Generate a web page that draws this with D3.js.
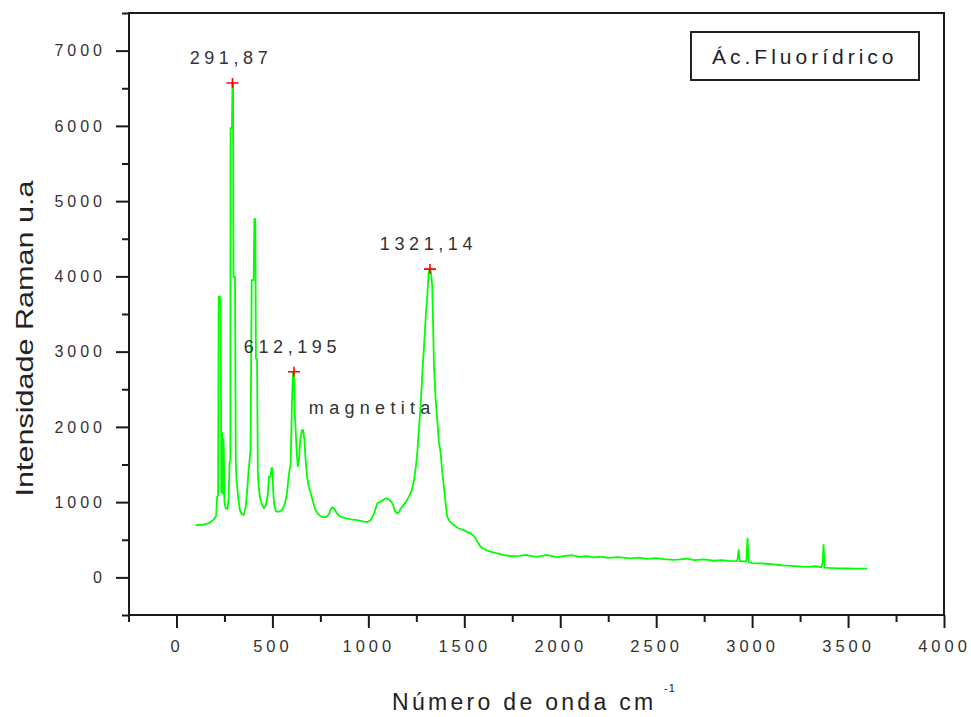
<!DOCTYPE html>
<html>
<head>
<meta charset="utf-8">
<script src="https://cdn.jsdelivr.net/npm/d3@7"></script>
<style>
  html, body { margin: 0; padding: 0; background: #fff; }
  svg { display: block; }
  text { font-family: "Liberation Sans", Arial, sans-serif; }
</style>
</head>
<body>
<svg id="chart" width="971" height="717"></svg>
<script>
// ---------- data ----------
const wavenumber = [
  100, 108, 118, 130, 145, 160, 175, 190, 200, 207, 212, 217,
  220, 226, 230, 234, 238, 241, 244, 247, 250, 256, 266, 272, 277, 281,
  282, 289, 291.87, 295, 297, 305, 309, 313, 320, 330, 340, 350,
  362, 368, 376, 386, 392, 402, 406, 411, 414, 420, 424, 428, 436, 446, 456,
  466, 476, 482, 490, 495, 500, 504, 510, 518, 528, 540, 552, 565, 575, 585,
  595, 603, 608, 612.195, 616, 620, 626, 632, 638, 646, 654, 660, 666, 672,
  680, 690, 700, 712, 724, 735, 750, 765, 780, 795, 806, 815, 825, 835, 845,
  860, 875, 891, 910, 930, 943, 960, 975, 995, 1012, 1020, 1030, 1040, 1047,
  1060, 1075, 1090, 1105, 1118, 1128, 1140, 1151, 1160, 1170, 1180, 1195,
  1211, 1225, 1238, 1248, 1255, 1263, 1272, 1281, 1290, 1300, 1307, 1314,
  1321.14, 1327, 1333, 1338, 1342, 1350, 1359, 1368, 1377, 1385, 1394, 1402,
  1411, 1425, 1446, 1465, 1480, 1498, 1515, 1533, 1546, 1559, 1572, 1585,
  1600, 1620, 1645, 1672, 1700, 1741, 1790, 1820, 1845, 1875, 1900, 1930,
  1950, 1985, 2019, 2060, 2100, 2140, 2175, 2210, 2250, 2300, 2366, 2410,
  2450, 2500, 2540, 2590, 2627, 2660, 2700, 2750, 2800, 2840, 2880, 2920,
  2925, 2930, 2935, 2945, 2970, 2976, 2982, 3000, 3050, 3100, 3130, 3160,
  3228, 3260, 3300, 3330, 3360, 3368, 3372, 3378, 3400, 3450, 3500, 3550, 3600
];
const intensity = [
  700, 690, 700, 695, 705, 715, 730, 760, 790, 820, 1070, 1090,
  3730, 3730, 3600, 1120, 1930, 1100, 1850, 1690, 1000, 920, 910, 1050, 1530, 1540,
  5970, 5970, 6570, 6570, 3990, 3990, 1555, 1300, 1100, 900, 840, 830,
  950, 1150, 1420, 1700, 3950, 3950, 4760, 4760, 2910, 2900, 1400, 1220, 1050, 960, 920,
  960, 1100, 1335, 1335, 1450, 1450, 1150, 960, 880, 870, 880, 900, 980, 1100, 1350,
  1515, 2450, 2732, 2732, 2200, 2020, 1700, 1470, 1550, 1850, 1955, 1955, 1850, 1600,
  1350, 1200, 1117, 1000, 900, 850, 815, 800, 800, 840, 920, 930, 900, 860, 825,
  800, 790, 780, 770, 765, 760, 750, 740, 735, 760, 800, 850, 930, 985,
  1000, 1025, 1050, 1040, 1010, 970, 880, 850, 870, 920, 950, 1000,
  1070, 1150, 1290, 1480, 1650, 1950, 2265, 2700, 3063, 3500, 3728, 4050,
  4097, 4050, 3861, 3300, 2797, 2400, 2088, 1800, 1650, 1400, 1200, 1000,
  805, 740, 695, 660, 640, 628, 605, 585, 560, 518, 460, 407,
  380, 354, 335, 319, 300, 283, 285, 300, 287, 272, 283, 298,
  285, 270, 283, 295, 272, 282, 266, 275, 258, 268, 252, 262,
  247, 255, 243, 232, 239, 248, 230, 238, 221, 228, 218, 217,
  250, 372, 215, 215, 212, 526, 205, 190, 185, 175, 168, 160,
  150, 142, 140, 148, 135, 200, 440, 130, 125, 120, 118, 116, 115
];
const peakWn = [291.87, 612.195, 1321.14];
const peakInt = [6570, 2732, 4097];
const peakLabels = ["291,87", "612,195", "1321,14"];
const noteText = "magnetita";
const noteWn = 690;
const noteInt = 2170;
const xMajorTicks = [0, 500, 1000, 1500, 2000, 2500, 3000, 3500, 4000];
const xTickLabels = ["0", "500", "1000", "1500", "2000", "2500", "3000", "3500", "4000"];
const xMinorTicks = [-250, 250, 750, 1250, 1750, 2250, 2750, 3250, 3750];
const yMajorTicks = [0, 1000, 2000, 3000, 4000, 5000, 6000, 7000];
const yTickLabels = ["0", "1000", "2000", "3000", "4000", "5000", "6000", "7000"];
const yMinorTicks = [-500, 500, 1500, 2500, 3500, 4500, 5500, 6500, 7500];
const legendLabel = "Ác.Fluorídrico";
const xTitle = "Número de onda cm";
const xTitleSup = "-1";
const yTitle = "Intensidade Raman u.a";

// ---------- layout ----------
const L = 129, R = 944, T = 13, B = 615;
const svg = d3.select("#chart");
const x = d3.scaleLinear().domain([-250, 4000]).range([L - 0.5, R]);
const y = d3.scaleLinear().domain([-500, 7500]).range([B, T]);
const axisColor = "#1a1a1a";
const textColor = "#333";

// y axis
const yMinorAxis = d3.axisLeft(y).tickValues(yMinorTicks).tickSize(7).tickSizeOuter(0).tickFormat("");
const yMajorAxis = d3.axisLeft(y).tickValues(yMajorTicks).tickSize(13).tickSizeOuter(0)
  .tickPadding(10).tickFormat((d, i) => yTickLabels[i]);
const gy1 = svg.append("g").attr("transform", `translate(${L},0)`).call(yMinorAxis);
const gy2 = svg.append("g").attr("transform", `translate(${L},0)`).call(yMajorAxis);
// x axis
const xMinorAxis = d3.axisBottom(x).tickValues(xMinorTicks).tickSize(7).tickSizeOuter(0).tickFormat("");
const xMajorAxis = d3.axisBottom(x).tickValues(xMajorTicks).tickSize(13).tickSizeOuter(0)
  .tickPadding(12).tickFormat((d, i) => xTickLabels[i]);
const gx1 = svg.append("g").attr("transform", `translate(0,${B})`).call(xMinorAxis);
const gx2 = svg.append("g").attr("transform", `translate(0,${B})`).call(xMajorAxis);

[gy1, gy2, gx1, gx2].forEach(g => {
  g.select(".domain").remove();
  g.selectAll(".tick line").attr("stroke", axisColor).attr("stroke-width", 2);
});
gy2.selectAll(".tick text")
  .attr("font-size", 16).attr("fill", textColor)
  .attr("letter-spacing", 4).attr("x", -23);
gx2.selectAll(".tick text")
  .attr("font-size", 16.5).attr("fill", textColor)
  .attr("letter-spacing", 4).attr("dy", "0.71em");

// frame
svg.append("rect")
  .attr("x", L).attr("y", T).attr("width", R - L).attr("height", B - T)
  .attr("fill", "none").attr("stroke", axisColor).attr("stroke-width", 2);

// spectrum
const pts = wavenumber.map((w, i) => [w, intensity[i]]);
const line = d3.line().x(d => x(d[0])).y(d => y(d[1])).curve(d3.curveLinear);
svg.append("path")
  .attr("d", line(pts))
  .attr("fill", "none").attr("stroke", "#00ff00")
  .attr("stroke-width", 1.8).attr("stroke-linejoin", "miter");

// peak markers and labels
peakWn.forEach((w, i) => {
  const px = x(w), py = y(peakInt[i]);
  svg.append("path")
    .attr("d", `M${px - 6},${py}H${px + 6}M${px},${py - 5}V${py + 5}`)
    .attr("stroke", "#ff0000").attr("stroke-width", 1.6).attr("fill", "none");
  svg.append("text")
    .attr("x", px - 1.5).attr("y", py - 19)
    .attr("text-anchor", "middle")
    .attr("font-size", 18).attr("letter-spacing", 4.6)
    .attr("fill", textColor)
    .text(peakLabels[i]);
});

// magnetita note
svg.append("text")
  .attr("x", x(noteWn)).attr("y", y(noteInt))
  .attr("font-size", 18).attr("letter-spacing", 5.3)
  .attr("fill", textColor)
  .text(noteText);

// legend box
svg.append("rect")
  .attr("x", 691).attr("y", 32).attr("width", 228).attr("height", 48)
  .attr("fill", "#fff").attr("stroke", "#222").attr("stroke-width", 2);
svg.append("text")
  .attr("x", 712).attr("y", 64)
  .attr("font-size", 21).attr("letter-spacing", 4)
  .attr("fill", "#1e1e30")
  .text(legendLabel);

// axis titles
svg.append("text")
  .attr("x", 392).attr("y", 710)
  .attr("font-size", 23).attr("letter-spacing", 3.3)
  .attr("fill", "#222")
  .text(xTitle);
svg.append("text")
  .attr("x", 664).attr("y", 692)
  .attr("font-size", 11).attr("letter-spacing", 1)
  .attr("fill", "#222")
  .text(xTitleSup);
svg.append("text")
  .attr("transform", "translate(33,338.5) rotate(-90)")
  .attr("text-anchor", "middle")
  .attr("font-size", 24)
  .attr("textLength", 316).attr("lengthAdjust", "spacingAndGlyphs")
  .attr("fill", "#222")
  .text(yTitle);
</script>
</body>
</html>
